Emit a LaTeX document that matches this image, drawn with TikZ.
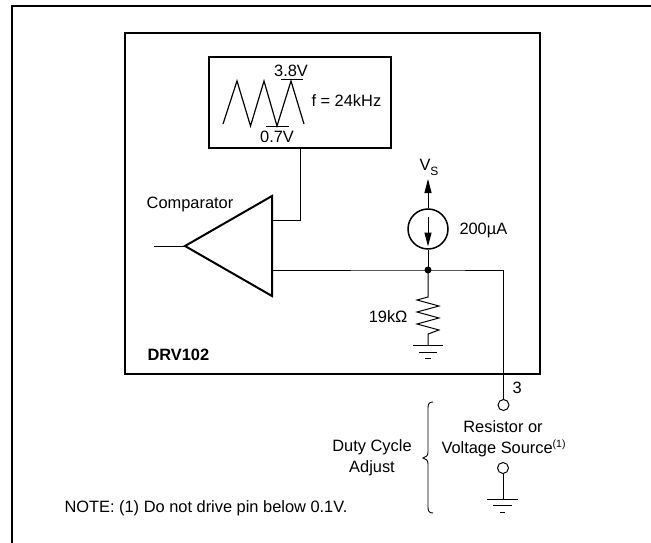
\documentclass[tikz,border=0pt]{standalone}
\usepackage{fontspec}
\setmainfont{Liberation Sans}
\tikzset{
every picture/.style={
line width=1pt
}}
\usetikzlibrary{arrows.meta}

\begin{document}
\begin{tikzpicture}[x=1pt, y=-1pt,
thick line/.style = {line width=2.6pt},
label/.style = {font=\fontsize{16.4}{20}\selectfont, inner sep=0pt, align=center},
pin/.style = {circle, draw=black, fill=white, minimum size=11pt, inner sep=0pt},
head/.style = {-{Triangle[length=14pt,width=7pt]}}]
\useasboundingbox (0,0) rectangle (651,543);

\draw[thick line, line cap=butt] (12,543) -- (12,6) -- (651,6);
\node[draw=black, thick line, minimum width=415pt, minimum height=341pt, inner sep=0pt] at (332.5,203.5) (drv) {};
\node[draw=black, thick line, minimum width=182pt, minimum height=91pt, inner sep=0pt] at (300,102.5) (osc) {};

% waveform in the oscillator box
\draw[line width=1.2pt] (223,124) -- (237,81) -- (250.5,126) -- (264,81) -- (277,126) -- (291,81) -- (304,124);
\draw (281,80) -- (303,80);
\draw (266,126.5) -- (289,126.5);
\node[label] at (291,71) (high) {3.8V};
\node[label] at (277,137) (low) {0.7V};
\node[label, anchor=west] at (311,101) (freq) {f = 24kHz};

% comparator
\coordinate (tip) at (185,246);
\coordinate (cin) at (154,246);
\coordinate (ctop) at (272,196);
\coordinate (cbot) at (272,296);
\coordinate (cref) at (272,220);
\coordinate (cfb) at (272,270);
\coordinate (oscstem) at (300,220);
\draw[line width=2pt, line join=miter] (tip) -- (ctop) -- (cbot) -- cycle;
\draw (cin) -- (tip);
\draw (osc.south) -- (oscstem) -- (cref);
\node[label] at (190,204) (comp) {Comparator};

% current source and supply
\node[circle, draw=black, line width=1.5pt, minimum size=40pt, inner sep=0pt] at (428,229) (src) {};
\coordinate (vs) at (428,179);
\coordinate (arrowtop) at (428,217);
\coordinate (arrowtip) at (428,246.5);
\coordinate (junc) at (428,270);
\draw[head] (src.north) -- (vs);
\draw[head] (arrowtop) -- (arrowtip);
\draw (src.south) -- (junc);
\fill (junc) circle (3.5pt);
\node[label, anchor=base west] at (419,170) (vsup) {V\raisebox{-5pt}{\fontsize{12}{14}\selectfont S}};
\node[label, anchor=west] at (459,230) (cur) {200µA};

% resistor and ground
\coordinate (rtop) at (428,297);
\coordinate (rbot) at (428,345);
\draw (junc) -- (rtop) -- (417,300) -- (439,306) -- (417,312) -- (439,318) -- (417,324) -- (439,330) -- (428,334) -- (rbot);
\draw (413,345) -- (443,345) (419,352) -- (437,352) (425,358) -- (431,358);
\node[label, anchor=east] at (408,317) (res) {19kΩ};
\node[label, anchor=west, font=\fontsize{16.4}{20}\selectfont\bfseries] at (147,355) (name) {DRV102};

% pin 3 and external part
\node[pin] at (503.5,405) (pinthree) {};
\node[pin] at (503,468) (pinext) {};
\coordinate (corner) at (503.5,270);
\coordinate (gnd) at (503,499);
\draw (cfb) -- (junc) -- (corner) -- (pinthree);
\draw (pinext) -- (gnd);
\draw (487,499) -- (518,499) (493,505) -- (512,505) (500,512) -- (505,512);
\node[label, anchor=west] at (512,388) (pinnum) {3};
\node[label] at (503,427) (rsrc) {Resistor or};
\node[label, anchor=west] at (441,448) (vsrc) {Voltage Source\raisebox{6pt}{\fontsize{10.5}{12}\selectfont (1)}};
\node[label] at (372,458) (duty) {Duty Cycle\\[1pt]Adjust};

% brace
\draw[line width=0.9pt] (433,402) .. controls (429,402) and (428,404) .. (428,408) -- (428,452) .. controls (428,456) and (426,457) .. (423,458) .. controls (426,459) and (428,460) .. (428,464) -- (428,507) .. controls (428,511) and (429,513) .. (433,513);

\node[label, anchor=west] at (64,508) (note) {NOTE: (1) Do not drive pin below 0.1V.};
\end{tikzpicture}
\end{document}
